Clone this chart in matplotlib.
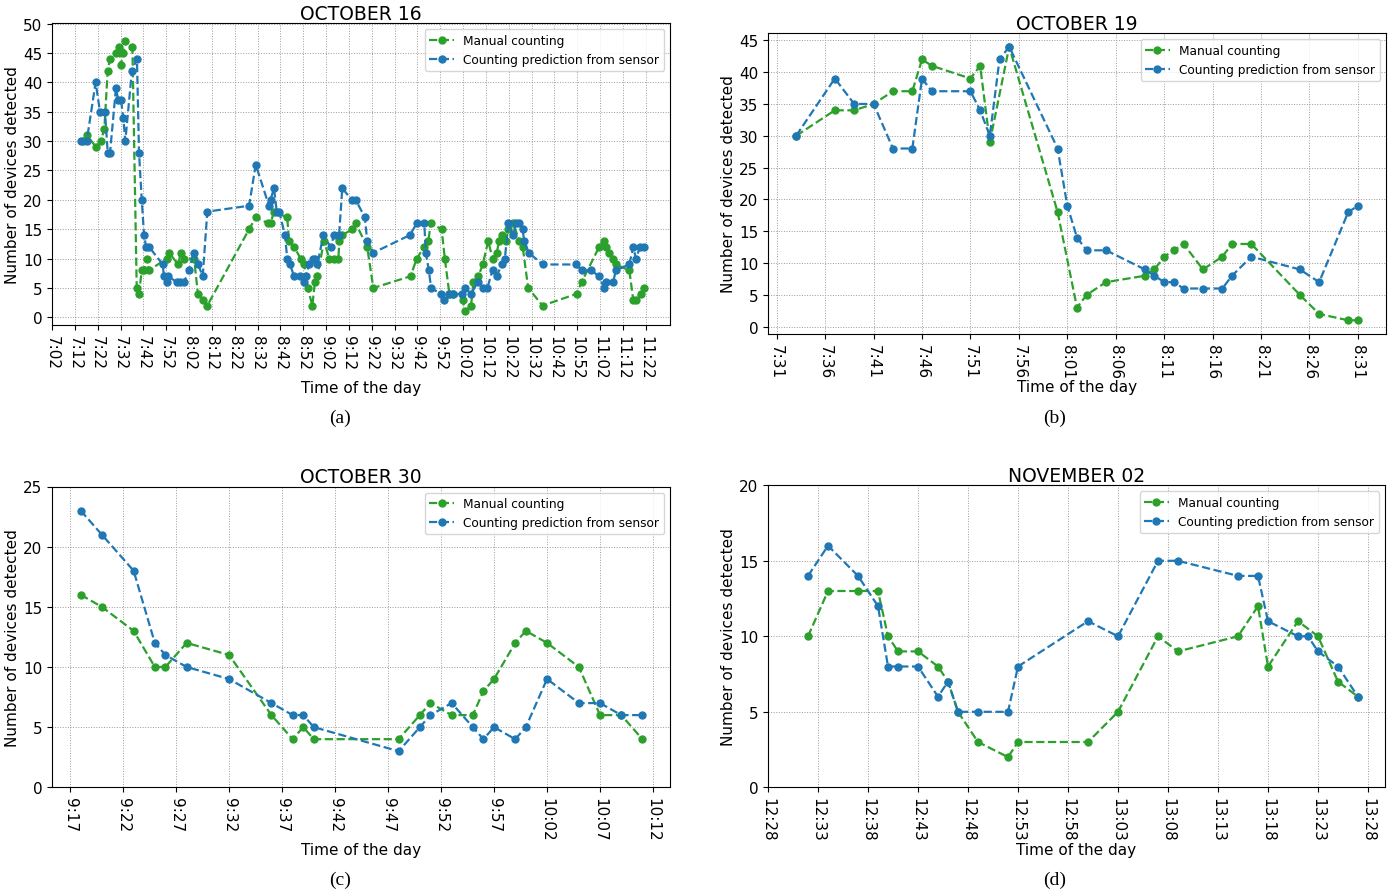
import matplotlib
matplotlib.use("Agg")
import matplotlib.pyplot as plt
import numpy as np

GREEN = "#2ca02c"
BLUE = "#1f77b4"

# ---- October 16 (minutes after 7:02) ----
oct16_start = "7:02"
oct16_manual_t = [13.7, 15.2, 19.3, 21.3, 22.9, 24.4, 25.4, 28, 29.2, 30.2, 31.2, 32.1, 35.2,
                  37.1, 38.1, 39.3, 40.4, 41.5, 42.5, 50.2, 51.2, 55.3, 56.3, 57.8, 62.2, 63.9,
                  66, 68, 86.3, 89.2, 94.7, 95.7, 97.2, 103, 103.8, 106, 108.9, 110.5, 112,
                  114, 115.1, 116.2, 119.1, 121.4, 123.5, 125.4, 125.8, 127.1, 131.5, 133,
                  138, 140.7, 157, 159.7, 163, 164.8, 165.8, 170.6, 172, 174, 175.7, 179.8,
                  180.8, 183.5, 184.5, 186.7, 188.6, 191, 192.9, 194.7, 195.8, 196.9, 198.8,
                  199.8, 202, 204.6, 206.1, 208.5, 214.8, 229.7, 231.9, 239.6, 241.7, 242.6,
                  243.9, 245.5, 246.9, 252.8, 254.5, 255.5, 257.7, 259.2]
oct16_manual_v = [30, 31, 29, 30, 32, 42, 44, 45, 46, 43, 45, 47, 46,
                  5, 4, 8, 8, 10, 8, 10, 11, 9, 11, 10, 10, 4,
                  3, 2, 15, 17, 16, 16, 18, 17, 13, 12, 10, 9, 5,
                  2, 6, 7, 13, 10, 10, 10, 13, 14, 15, 16,
                  12, 5, 7, 10, 12, 13, 16, 15, 10, 4, 4, 3,
                  1, 2, 6, 7, 9, 13, 10, 11, 13, 14, 13,
                  15, 16, 13, 12, 5, 2, 4, 6, 12, 13, 12,
                  11, 10, 9, 8, 3, 3, 4, 5]
oct16_sensor_t = [12.6, 15.2, 19.1, 21, 23.2, 24.4, 25.4, 28, 29, 30.2, 31.2, 32.1, 35, 37.2,
                  38.1, 39.3, 40.3, 41.2, 42.5, 48.5, 49, 50.2, 50.9, 54.6, 56, 57.8, 60, 62,
                  64, 66, 68, 86.3, 89.2, 95, 95.7, 97.2, 98.4, 99.5, 102, 103, 104.2, 106,
                  108.6, 110.3, 111, 112.7, 114.1, 115.1, 116.2, 118.8, 122, 123.5, 125.7,
                  127.1, 131.2, 133, 137, 138, 140.7, 156.7, 159.7, 163, 163.7, 165, 166,
                  170.2, 171.8, 173.8, 175.7, 179.6, 180.8, 183.5, 186.4, 188.6, 190.6, 192.9,
                  194.7, 196.9, 198.3, 199.8, 202, 203, 204.6, 206.1, 206.7, 208.8, 214.8,
                  229.4, 231.9, 236, 239.6, 241.7, 242.6, 245.7, 246.9, 252.8, 254.5, 255.7,
                  257.5, 259.3]
oct16_sensor_v = [30, 30, 40, 35, 35, 28, 28, 39, 37, 37, 34, 30, 42, 44,
                  28, 20, 14, 12, 12, 9, 7, 6, 7, 6, 6, 6, 8, 11,
                  9, 7, 18, 19, 26, 19, 20, 22, 18, 18, 14, 10, 9, 7,
                  7, 6, 7, 9, 10, 10, 9, 14, 12, 14, 14,
                  22, 20, 20, 17, 13, 11, 14, 16, 16, 11, 8, 5,
                  4, 3, 4, 4, 4, 5, 4, 6, 5, 5, 8,
                  7, 9, 10, 16, 14, 16, 16, 15, 13, 11, 9,
                  9, 8, 8, 7, 5, 6, 6, 8, 9, 12, 10,
                  12, 12]

# ---- October 19 ----
oct19_manual_t = ["7:33", "7:37", "7:39", "7:41", "7:43", "7:45", "7:46", "7:47", "7:51",
                  "7:52", "7:53", "7:55", "8:00", "8:02", "8:03", "8:05", "8:09", "8:10",
                  "8:11", "8:12", "8:13", "8:15", "8:17", "8:18", "8:20", "8:25", "8:27",
                  "8:30", "8:31"]
oct19_manual_v = [30, 34, 34, 35, 37, 37, 42, 41, 39, 41, 29, 44, 18, 3, 5, 7, 8, 9,
                  11, 12, 13, 9, 11, 13, 13, 5, 2, 1, 1]
oct19_sensor_t = ["7:33", "7:37", "7:39", "7:41", "7:43", "7:45", "7:46", "7:47", "7:51",
                  "7:52", "7:53", "7:54", "7:55", "8:00", "8:01", "8:02", "8:03", "8:05",
                  "8:09", "8:10", "8:11", "8:12", "8:13", "8:15", "8:17", "8:18", "8:20",
                  "8:25", "8:27", "8:30", "8:31"]
oct19_sensor_v = [30, 39, 35, 35, 28, 28, 39, 37, 37, 34, 30, 42, 44, 28, 19, 14, 12, 12,
                  9, 8, 7, 7, 6, 6, 6, 8, 11, 9, 7, 18, 19]

# ---- October 30 ----
oct30_manual_t = ["9:18", "9:20", "9:23", "9:25", "9:26", "9:28", "9:32", "9:36", "9:38",
                  "9:39", "9:40", "9:48", "9:50", "9:51", "9:53", "9:55", "9:56", "9:57",
                  "9:59", "10:00", "10:02", "10:05", "10:07", "10:09", "10:11"]
oct30_manual_v = [16, 15, 13, 10, 10, 12, 11, 6, 4, 5, 4, 4, 6, 7, 6, 6, 8, 9,
                  12, 13, 12, 10, 6, 6, 4]
oct30_sensor_t = ["9:18", "9:20", "9:23", "9:25", "9:26", "9:28", "9:32", "9:36", "9:38",
                  "9:39", "9:40", "9:48", "9:50", "9:51", "9:53", "9:55", "9:56", "9:57",
                  "9:59", "10:00", "10:02", "10:05", "10:07", "10:09", "10:11"]
oct30_sensor_v = [23, 21, 18, 12, 11, 10, 9, 7, 6, 6, 5, 3, 5, 6, 7, 5, 4, 5,
                  4, 5, 9, 7, 7, 6, 6]

# ---- November 02 ----
nov02_manual_t = ["12:32", "12:34", "12:37", "12:39", "12:40", "12:41", "12:43", "12:45",
                  "12:46", "12:47", "12:49", "12:52", "12:53", "13:00", "13:03", "13:07",
                  "13:09", "13:15", "13:17", "13:18", "13:21", "13:23", "13:25", "13:27"]
nov02_manual_v = [10, 13, 13, 13, 10, 9, 9, 8, 7, 5, 3, 2, 3, 3, 5, 10,
                  9, 10, 12, 8, 11, 10, 7, 6]
nov02_sensor_t = ["12:32", "12:34", "12:37", "12:39", "12:40", "12:41", "12:43", "12:45",
                  "12:46", "12:47", "12:49", "12:52", "12:53", "13:00", "13:03", "13:07",
                  "13:09", "13:15", "13:17", "13:18", "13:21", "13:22", "13:23", "13:25",
                  "13:27"]
nov02_sensor_v = [14, 16, 14, 12, 8, 8, 8, 6, 7, 5, 5, 5, 8, 11, 10, 15,
                  15, 14, 14, 11, 10, 10, 9, 8, 6]


def to_min(s):
    h, m = s.split(":")
    return int(h) * 60 + int(m)


def fmt(m):
    m = int(round(m))
    return f"{m // 60}:{m % 60:02d}"


def panel(ax, title, tm, vm, ts, vs, first_tick, last_tick, step, xlim, ylim, ymax):
    ax.plot(tm, vm, "--o", color=GREEN, ms=5, lw=1.6, label="Manual counting")
    ax.plot(ts, vs, "--o", color=BLUE, ms=5, lw=1.6, label="Counting prediction from sensor")
    ticks = np.arange(to_min(first_tick), to_min(last_tick) + 1, step)
    ax.set_xticks(ticks)
    ax.set_xticklabels([fmt(t) for t in ticks], rotation=-90, fontsize=11)
    ax.set_yticks(np.arange(0, ymax + 1, 5))
    ax.tick_params(axis="y", labelsize=11)
    ax.set_xlim(*xlim)
    ax.set_ylim(*ylim)
    ax.grid(True, linestyle=":", color="#9a9a9a", linewidth=0.7)
    ax.set_title(title, fontsize=13.5, pad=3)
    ax.set_xlabel("Time of the day", fontsize=11, labelpad=1)
    ax.set_ylabel("Number of devices detected", fontsize=11, labelpad=2)
    ax.legend(loc="upper right", fontsize=8.7)


W, H = 1400, 895
fig = plt.figure(figsize=(W / 100, H / 100), dpi=100)


def box(x0, x1, y0, y1):
    return [x0 / W, 1 - y1 / H, (x1 - x0) / W, (y1 - y0) / H]


ax_a = fig.add_axes(box(52, 670, 24, 326))
ax_b = fig.add_axes(box(768, 1386, 34, 335))
ax_c = fig.add_axes(box(52, 670, 487.5, 788.3))
ax_d = fig.add_axes(box(768, 1385, 486.3, 788.3))

start = to_min(oct16_start)
panel(ax_a, "OCTOBER 16",
      [start + t for t in oct16_manual_t], oct16_manual_v,
      [start + t for t in oct16_sensor_t], oct16_sensor_v,
      "7:02", "11:22", 10, (start, start + 270.6), (-1.3, 50.1), 50)
panel(ax_b, "OCTOBER 19",
      [to_min(t) for t in oct19_manual_t], oct19_manual_v,
      [to_min(t) for t in oct19_sensor_t], oct19_sensor_v,
      "7:31", "8:31", 5, (to_min("7:30") + 0.1, to_min("8:33") + 0.9), (-1.15, 46.15), 45)
panel(ax_c, "OCTOBER 30",
      [to_min(t) for t in oct30_manual_t], oct30_manual_v,
      [to_min(t) for t in oct30_sensor_t], oct30_sensor_v,
      "9:17", "10:12", 5, (to_min("9:15") + 0.3, to_min("10:13") + 0.6), (0, 25), 25)
panel(ax_d, "NOVEMBER 02",
      [to_min(t) for t in nov02_manual_t], nov02_manual_v,
      [to_min(t) for t in nov02_sensor_t], nov02_sensor_v,
      "12:28", "13:28", 5, (to_min("12:28"), to_min("13:29") + 0.7), (0, 20), 20)

for label, x, y in [("(a)", 340, 418), ("(b)", 1055, 418), ("(c)", 340, 880), ("(d)", 1055, 880)]:
    fig.text(x / W, 1 - y / H, label, ha="center", va="center",
             family="Liberation Serif", fontsize=14)

fig.savefig("out.png", dpi=100)
